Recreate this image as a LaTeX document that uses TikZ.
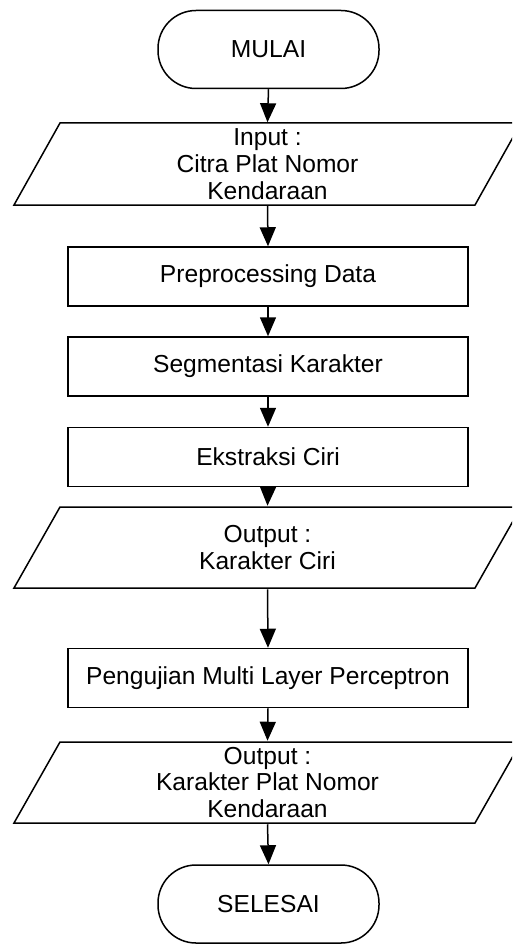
\documentclass[tikz,border=0pt]{standalone}
\usepackage{fontspec}
\setmainfont{Liberation Sans}
\usetikzlibrary{arrows.meta}
\begin{document}
\begin{tikzpicture}[x=1pt,y=-1pt,
  line width=1.5pt,
  font=\fontsize{24.6}{26.8}\selectfont,
  term/.style={draw, rounded corners=38pt, minimum width=221pt, minimum height=78pt, inner sep=0pt},
  procbox/.style={draw, minimum width=400pt, minimum height=59pt, inner sep=0pt},
  iobox/.style={minimum width=440pt, minimum height=82pt, inner sep=0pt, align=center},
  flow/.style={-{Triangle[length=19pt,width=16pt]}, line width=1.5pt}]
\useasboundingbox (0,0) rectangle (512,944);
\clip (0,0) rectangle (512,944);

\node[term] (mulai) at (268.5,49.5) {MULAI};

\node[iobox] (in) at (267.5,164) {Input :\\Citra Plat Nomor\\Kendaraan};
\draw (14,205) -- (60,123) -- (521,123) -- (475,205) -- cycle;

\node[procbox] (pre) at (268,276.5) {Preprocessing Data};
\node[procbox] (seg) at (268,366.5) {Segmentasi Karakter};
\node[procbox] (eks) at (268,457) {Ekstraksi Ciri};

\node[iobox] (out1) at (267.5,547.5) {Output :\\Karakter Ciri};
\draw (14,588) -- (60,507) -- (521,507) -- (475,588) -- cycle;

\node[procbox] (mlp) at (268,678) {Pengujian Multi Layer Perceptron};

\node[iobox] (out2) at (267.5,782.5) {Output :\\Karakter Plat Nomor\\Kendaraan};
\draw (14,823) -- (60,742) -- (521,742) -- (475,823) -- cycle;

\node[term] (selesai) at (268.5,904) {SELESAI};

\draw[flow] (mulai.south) -- (in.north);
\draw[flow] (in.south) -- (pre.north);
\draw[flow] (pre.south) -- (seg.north);
\draw[flow] (seg.south) -- (eks.north);
\draw[flow] (eks.south) -- (out1.north);
\draw[flow] (out1.south) -- (mlp.north);
\draw[flow] (mlp.south) -- (out2.north);
\draw[flow] (out2.south) -- (selesai.north);
\end{tikzpicture}
\end{document}
